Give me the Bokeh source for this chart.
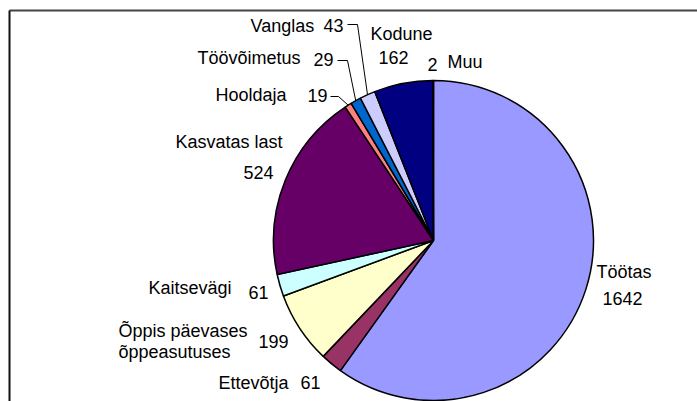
import math
from bokeh.plotting import figure
from bokeh.models import Range1d
from bokeh.embed import file_html
from bokeh.resources import INLINE
from bokeh.core.properties import value

# ---- data ----
labels = ["Töötas", "Ettevõtja", "Õppis päevases\nõppeasutuses", "Kaitsevägi",
          "Kasvatas last", "Hooldaja", "Töövõimetus", "Vanglas", "Kodune", "Muu"]
counts = [1642, 61, 199, 61, 524, 19, 29, 43, 162, 2]
colors = ["#9999FF", "#993366", "#FFFFCC", "#CCFFFF", "#660066",
          "#FF8080", "#0066CC", "#CCCCFF", "#000080", "#FF00FF"]

# ---- label placement (picture pixel coords; left-aligned, vertical centre) ----
name_pos = [(596, 271), (218, 382), (118, 330), (148, 287), (175, 141.5),
            (215, 94), (197, 57), (250, 25), (370, 33.5), (447, 61.5)]
val_pos = [(602, 297.5), (300, 382), (258, 340.5), (248, 291.5), (243, 172),
           (307, 95), (313, 58.5), (323, 25), (378, 56.5), (427, 63.5)]
# leader lines: index -> (start x, y, elbow x)
leaders = {5: (330, 96, 338), 6: (337, 60, 347), 7: (347, 24, 357)}

W, H = 697, 401
def Y(py):
    return H - py

p = figure(width=W, height=H, output_backend="svg", toolbar_location=None,
           x_range=Range1d(0, W), y_range=Range1d(0, H),
           min_border=0, x_axis_location=None, y_axis_location=None)
p.grid.visible = False
p.outline_line_color = None
p.background_fill_color = "white"
p.border_fill_color = "white"

# frame lines (top and left only visible)
p.segment(x0=[9], y0=[Y(10)], x1=[720], y1=[Y(10)], line_color="#444444", line_width=2)
p.segment(x0=[9], y0=[Y(10)], x1=[9], y1=[Y(440)], line_color="#111111", line_width=2)

cx, cy, r = 433, Y(240), 160
total = sum(counts)
cum = 0
starts, ends, mids = [], [], []
for c in counts:
    a0 = math.pi / 2 - 2 * math.pi * cum / total
    cum += c
    a1 = math.pi / 2 - 2 * math.pi * cum / total
    starts.append(a0)
    ends.append(a1)
    mids.append((a0 + a1) / 2)

p.wedge(x=cx, y=cy, radius=r, start_angle=starts, end_angle=ends, direction="clock",
        fill_color=colors, line_color="black", line_width=1.5)

font = value("Liberation Sans")
for i, (lab, cnt) in enumerate(zip(labels, counts)):
    nx, ny = name_pos[i]
    for k, line in enumerate(lab.split("\n")):
        p.text(x=[nx], y=[Y(ny + 21 * k)], text=[line], text_font=font,
               text_font_size="18px", text_align="left", text_baseline="middle",
               text_color="black")
    vx, vy = val_pos[i]
    p.text(x=[vx], y=[Y(vy)], text=[str(cnt)], text_font=font,
           text_font_size="18px", text_align="left", text_baseline="middle",
           text_color="black")

for i, (sx, sy, ex) in leaders.items():
    exx = cx + r * math.cos(mids[i])
    eyy = cy + r * math.sin(mids[i])
    p.line(x=[sx, ex, exx], y=[Y(sy), Y(sy), eyy], line_color="black", line_width=1)

open("out.html", "w").write(file_html(p, INLINE))
